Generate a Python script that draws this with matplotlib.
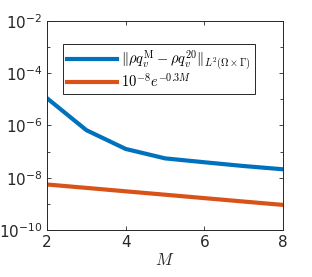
import matplotlib
matplotlib.use("Agg")
import matplotlib.pyplot as plt
import numpy as np
from matplotlib.ticker import FixedLocator, FuncFormatter, LogLocator, NullFormatter

plt.rcParams['mathtext.fontset'] = 'cm'
plt.rcParams['font.family'] = 'DejaVu Sans'

# data
M = [2, 3, 4, 5, 6, 7, 8]
err = [1.1e-5, 6.6e-7, 1.26e-7, 5.5e-8, 3.9e-8, 2.8e-8, 2.1e-8]
ref = [5.49e-9, 4.07e-9, 3.01e-9, 2.23e-9, 1.65e-9, 1.22e-9, 9.07e-10]

yticks = [1e-10, 1e-8, 1e-6, 1e-4, 1e-2]
xticks = [2, 4, 6, 8]

fig = plt.figure(figsize=(3.12, 2.77), dpi=100)
ax = fig.add_axes([0.151, 0.170, 0.756, 0.754])

ax.plot(M, err, color='#0072BD', lw=3,
        label=r'$\|\rho q_v^{\mathrm{M}} - \rho q_v^{20}\|_{L^2(\Omega\times\Gamma)}$')
ax.plot(M, ref, color='#D95319', lw=3, label=r'$10^{-8}e^{-0.3M}$')

ax.set_yscale('log')
ax.set_xlim(2, 8)
ax.set_ylim(1e-10, 1e-2)
ax.yaxis.set_major_locator(FixedLocator(yticks))
ax.yaxis.set_minor_locator(LogLocator(base=10, subs=(1.0,), numticks=20))
ax.yaxis.set_minor_formatter(NullFormatter())
ax.yaxis.set_major_formatter(FuncFormatter(
    lambda v, p: r'$\mathregular{10^{%d}}$' % int(round(np.log10(v)))))
ax.set_xticks(xticks)
ax.tick_params(which='both', direction='in', top=True, right=True,
               labelsize=11, colors='#262626', width=0.6)
ax.tick_params(which='major', length=3)
ax.tick_params(which='minor', length=2)
for s in ax.spines.values():
    s.set_linewidth(0.7)
    s.set_color('#262626')

ax.set_xlabel(r'$M$', fontsize=12, color='#262626', labelpad=1)

leg = ax.legend(loc='upper left', bbox_to_anchor=(0.035, 0.925), fontsize=10.5,
                handlelength=3.4, handletextpad=0.3, borderpad=0.3,
                labelspacing=0.0, fancybox=False, framealpha=1,
                edgecolor='#262626')
leg.get_frame().set_linewidth(0.7)

fig.savefig('out.png', dpi=100)
